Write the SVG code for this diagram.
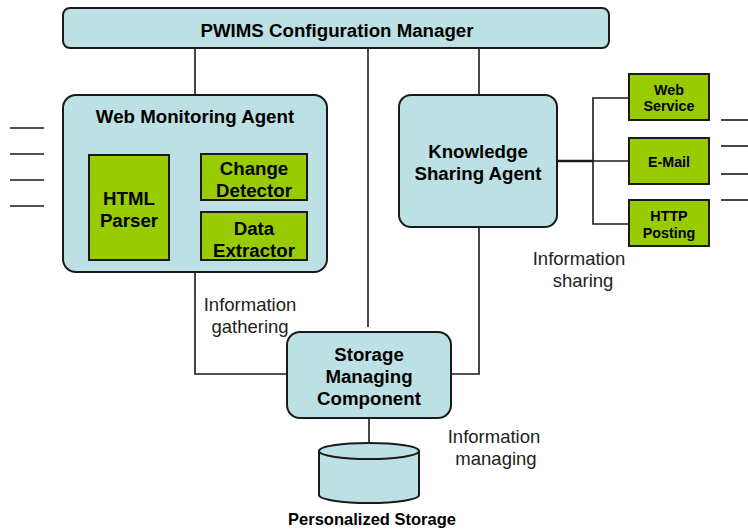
<svg xmlns="http://www.w3.org/2000/svg" width="748" height="531" viewBox="0 0 748 531">
  <style>
    .box { fill: #bce0e3; stroke: #1a1a1a; stroke-width: 2; }
    .mod { fill: #99cc00; stroke: #1a1a1a; stroke-width: 2; }
    .wire { fill: none; stroke: #1a1a1a; stroke-width: 1.6; }
    .t { font-family: "Liberation Sans", Arial, sans-serif; font-weight: bold; fill: #000; text-anchor: middle; }
    .big { font-size: 18.7px; }
    .small { font-size: 14.3px; }
    .note { font-family: "Liberation Sans", Arial, sans-serif; font-size: 18.5px; fill: #222; text-anchor: middle; }
  </style>

  <!-- connectors -->
  <g id="connectors">
    <line class="wire" x1="195" y1="48" x2="195" y2="95"/>
    <line class="wire" x1="368" y1="48" x2="368" y2="327"/>
    <line class="wire" x1="479" y1="48" x2="479" y2="95"/>
    <line class="wire" x1="169" y1="174" x2="197" y2="174"/>
    <line class="wire" x1="169" y1="232" x2="197" y2="232"/>
    <polyline class="wire" points="195,272 195,374 287,374"/>
    <polyline class="wire" points="451,374 479,374 479,227"/>
    <line class="wire" x1="369" y1="418" x2="369" y2="443"/>
    <line class="wire" x1="557" y1="161" x2="593" y2="161" style="stroke-width:2.6"/>
    <polyline class="wire" points="629,98 593,98 593,224 629,224"/>
    <line class="wire" x1="593" y1="161" x2="629" y2="161"/>
    <!-- incoming lines -->
    <line class="wire" x1="10" y1="128" x2="44" y2="128"/>
    <line class="wire" x1="10" y1="154" x2="44" y2="154"/>
    <line class="wire" x1="10" y1="180" x2="44" y2="180"/>
    <line class="wire" x1="10" y1="206" x2="44" y2="206"/>
    <!-- outgoing lines -->
    <line class="wire" x1="721" y1="120" x2="748" y2="120"/>
    <line class="wire" x1="721" y1="146" x2="748" y2="146"/>
    <line class="wire" x1="721" y1="174" x2="748" y2="174"/>
    <line class="wire" x1="721" y1="200" x2="748" y2="200"/>
  </g>

  <g id="config-manager">
    <rect class="box" x="63" y="8" width="546" height="40" rx="7"/>
    <text class="t big" x="337" y="37">PWIMS Configuration Manager</text>
  </g>

  <g id="web-monitoring-agent">
    <rect class="box" x="63" y="95" width="264" height="177" rx="13"/>
    <text class="t big" x="195" y="123">Web Monitoring Agent</text>
  </g>

  <g id="html-parser">
    <rect class="mod" x="89" y="155" width="80" height="105"/>
    <text class="t big" x="129" y="205">HTML</text>
    <text class="t big" x="129" y="227">Parser</text>
  </g>

  <g id="change-detector">
    <rect class="mod" x="201" y="154" width="106" height="46"/>
    <text class="t big" x="254" y="175">Change</text>
    <text class="t big" x="254" y="197">Detector</text>
  </g>

  <g id="data-extractor">
    <rect class="mod" x="201" y="212" width="106" height="48"/>
    <text class="t big" x="254" y="235">Data</text>
    <text class="t big" x="254" y="257">Extractor</text>
  </g>

  <g id="knowledge-sharing-agent">
    <rect class="box" x="399" y="95" width="158" height="132" rx="12"/>
    <text class="t big" x="478" y="158">Knowledge</text>
    <text class="t big" x="478" y="180">Sharing Agent</text>
  </g>

  <g id="web-service">
    <rect class="mod" x="629" y="74" width="80" height="46"/>
    <text class="t small" x="669" y="95">Web</text>
    <text class="t small" x="669" y="111">Service</text>
  </g>

  <g id="e-mail">
    <rect class="mod" x="629" y="138" width="80" height="46"/>
    <text class="t small" x="669" y="167">E-Mail</text>
  </g>

  <g id="http-posting">
    <rect class="mod" x="629" y="200" width="80" height="46"/>
    <text class="t small" x="669" y="221">HTTP</text>
    <text class="t small" x="669" y="238">Posting</text>
  </g>

  <g id="storage-managing-component">
    <rect class="box" x="287" y="332" width="164" height="86" rx="13"/>
    <text class="t big" x="369" y="361">Storage</text>
    <text class="t big" x="369" y="383">Managing</text>
    <text class="t big" x="369" y="405">Component</text>
  </g>

  <g id="personalized-storage">
    <path class="box" d="M319,451 L319,495 A50,8 0 0 0 419,495 L419,451"/>
    <ellipse class="box" cx="369" cy="451" rx="50" ry="8"/>
    <text class="t" style="font-size:16.5px" x="372" y="525">Personalized Storage</text>
  </g>

  <g id="labels">
    <text class="note" x="250" y="311">Information</text>
    <text class="note" x="250" y="333">gathering</text>
    <text class="note" x="579" y="265">Information</text>
    <text class="note" x="583" y="287">sharing</text>
    <text class="note" x="494" y="443">Information</text>
    <text class="note" x="496" y="465">managing</text>
  </g>
</svg>
